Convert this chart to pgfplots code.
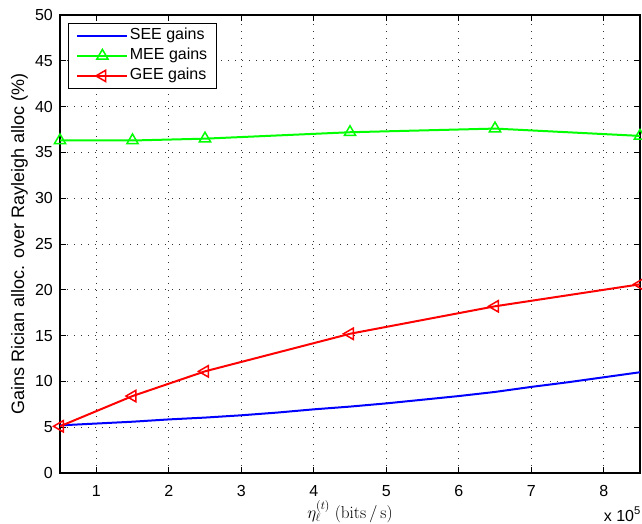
\documentclass[border=0pt]{standalone}
\usepackage{pgfplots}
\pgfplotsset{compat=1.18}
\usepackage[no-math]{fontspec}
\setmainfont{Liberation Sans}
\begin{document}
\begin{tikzpicture}[x=1bp,y=1bp]
\begin{axis}[
  name=ax,
  width=580bp, height=458bp,
  scale only axis,
  xmin=0.5, xmax=8.5,
  ymin=0, ymax=50,
  xtick={1,2,3,4,5,6,7,8},
  ytick={0,5,...,50},
  tick align=inside,
  xtick pos=both, ytick pos=both,
  major tick length=6bp,
  grid=major,
  major grid style={black!80, dash pattern=on 1bp off 6bp, line width=0.8bp},
  axis line style={black, line width=1.2bp},
  tick style={black, line width=0.8bp},
  /pgf/number format/assume math mode=true,
  ticklabel style={font=\fontsize{16bp}{19bp}\selectfont, inner sep=0pt},
  xticklabel style={anchor=north, yshift=-12bp},
  yticklabel style={anchor=east, xshift=-7bp},
  xlabel={$\eta_\ell^{(t)}\;(\mathrm{bits}\,/\,\mathrm{s})$},
  xlabel style={font=\fontsize{18bp}{21bp}\selectfont, inner sep=0pt,
    at={(axis description cs:0.5,0)}, anchor=base, yshift=-45bp},
  legend style={draw=black, line width=0.8bp, fill=white,
    font=\fontsize{16bp}{19bp}\selectfont,
    legend cell align=left, at={(0.0138,0.9825)}, anchor=north west,
    inner xsep=8bp, inner ysep=3bp, row sep=1bp,
    nodes={inner sep=1.5bp, text height=12bp, text depth=4bp}},
  legend image code/.code={\draw[mark repeat=2,mark phase=2,#1] plot coordinates {(0bp,0bp) (25bp,0bp) (50bp,0bp)};},
]
\addplot[blue, line width=2bp] table[row sep=crcr]{
0.5 5.2\\
1.0 5.4\\
1.5 5.6\\
2.0 5.85\\
2.5 6.05\\
3.0 6.3\\
3.5 6.6\\
4.0 6.95\\
4.5 7.25\\
5.0 7.6\\
5.5 8.0\\
6.0 8.4\\
6.5 8.85\\
7.0 9.4\\
7.5 9.9\\
8.0 10.45\\
8.5 11.0\\
};
\addlegendentry{SEE gains}
\addplot[green, line width=2bp, mark=triangle, mark size=6.5bp, mark options={solid, line width=1.5bp}] table[row sep=crcr]{
0.5 36.3\\
1.5 36.3\\
2.5 36.5\\
4.5 37.2\\
6.5 37.6\\
8.5 36.8\\
};
\addlegendentry{MEE gains}
\addplot[red, line width=2bp, mark=triangle, mark size=6.5bp, mark options={solid, rotate=90, line width=1.5bp}] table[row sep=crcr]{
0.5 5.1\\
1.5 8.4\\
2.5 11.1\\
4.5 15.2\\
6.5 18.2\\
8.5 20.6\\
};
\addlegendentry{GEE gains}
\end{axis}
\node[rotate=90, anchor=north, inner sep=0pt, font=\fontsize{18bp}{22bp}\selectfont]
  at ([xshift=-49bp]ax.west) {Gains Rician alloc. over Rayleigh alloc (\%)};
\node[anchor=base east, inner sep=0pt, font=\fontsize{16bp}{19bp}\selectfont]
  at ([shift={(1bp,-48bp)}]ax.south east) {x 10\textsuperscript{5}};
\pgfresetboundingbox
\path ([shift={(-60bp,-50bp)}]ax.south west) rectangle ([shift={(2bp,15bp)}]ax.north east);
\end{tikzpicture}
\end{document}
